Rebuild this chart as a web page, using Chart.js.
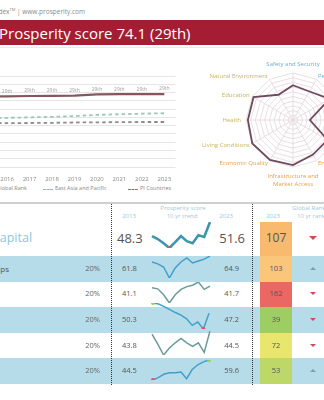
<!DOCTYPE html>
<html><head><meta charset="utf-8">
<script src="https://cdn.jsdelivr.net/npm/chart.js@4.4.0/dist/chart.umd.min.js"></script>
<style>
html,body{margin:0;padding:0;background:#fff;}
body{width:324px;height:400px;overflow:hidden;position:relative;font-family:"Open Sans",sans-serif;}
.a{position:absolute;white-space:nowrap;line-height:1;}
canvas{position:absolute;display:block;}
</style></head><body>
<script>
// ---------------- DATA ----------------
const years = ['2013','2014','2015','2016','2017','2018','2019','2020','2021','2022','2023'];
const countryScore = [72.4,72.5,72.6,72.7,72.9,73.0,73.1,73.9,74.0,74.0,74.1];
const globalRank = ['29th','29th','29th','29th','29th','29th','29th','29th','29th','29th','29th'];
const eastAsiaPacific = [59.0,59.3,59.5,59.7,60.0,60.3,60.8,61.5,61.9,62.2,62.5];
const piCountries = [56.2,56.3,56.4,56.5,56.6,56.7,56.9,57.0,57.1,57.2,57.2];
const seriesNames = ['Global Rank','East Asia and Pacific','PI Countries'];

const pillarLabels = ['Safety and Security','Personal Freedom','Governance','Social Capital','Investment Environment','Enterprise Conditions',['Infrastructure and','Market Access'],'Economic Quality','Living Conditions','Health','Education','Natural Environment'];
const pillarDomain = ['soc','soc','soc','soc','eco','eco','eco','eco','ppl','ppl','ppl','ppl'];
const pillarScores = [74.4,72.0,84.0,51.6,81.0,81.0,87.6,88.8,90.0,87.6,88.2,67.2];

const elementNames = ['Social Capital','Personal and Family Relationships','Social Networks','Interpersonal Trust','Institutional Trust','Civic and Social Participation'];
const elementWeights = ['','20%','20%','20%','20%','20%'];
const trendSocialCapital = [48.3,47.6,46.6,45.5,46.9,48.3,47.1,46.6,48.5,48.1,51.6];
const trendRelationships = [61.8,60.8,59.2,53.5,58.7,61.8,63.9,61.3,62.3,63.3,64.9];
const trendNetworks = [41.1,40.7,38.5,35.5,38.5,40.5,41.5,42.0,43.2,40.5,41.7];
const trendInterpersonal = [50.3,50.0,49.2,48.3,47.4,46.6,45.5,43.5,44.5,42.4,47.2];
const trendInstitutional = [43.8,41.5,39.0,40.6,41.8,42.8,41.8,41.0,41.8,39.6,44.5];
const trendCivic = [44.5,46.5,49.0,50.0,50.0,50.5,45.5,52.4,56.0,58.2,59.6];
const rank2023 = [107,103,162,39,72,53];
const rankChange = ['down','up','down','down','down','up'];
const headerLabels = ['Prosperity score','10 yr trend','2013','2023','Global Rank','10 yr rank change','2023'];

// ---------------- HELPERS ----------------
const body = document.body;
function el(tag, css, text){ const e=document.createElement(tag); e.style.cssText=css; if(text!==undefined) e.textContent=text; body.appendChild(e); return e; }
function txt(t,x,y,size,color,align,extra){
  const tr = align==='center'?'-50%':(align==='right'?'-100%':'0');
  return el('div',`left:${x}px;top:${y}px;font-size:${size}px;color:${color};transform:translate(${tr},-50%);${extra||''}`,t).classList.add('a');
}
function cnv(x,y,w,h){ const c=document.createElement('canvas'); c.width=w;c.height=h; c.style.cssText=`left:${x}px;top:${y}px;width:${w}px;height:${h}px;`; body.appendChild(c); return c; }
const mctx = document.createElement('canvas').getContext('2d');
function textW(t,font){ mctx.font=font; return mctx.measureText(t).width; }

// ---------------- HEADER ----------------
const top1 = el('div','right:239px;top:12px;font-size:6.5px;color:#8a8a8a;transform:translateY(-50%);');
top1.className='a';
top1.innerHTML='Legatum Prosperity Index<sup style="font-size:4px">TM</sup> | www.prosperity.com';
el('div','position:absolute;left:0;top:20px;width:324px;height:25px;background:#a51d32;');
txt('Prosperity score 74.1 (29th)',-1,32.5,15,'#fff','left');
el('div','position:absolute;left:0;top:47px;width:324px;height:1px;background:#f4e6e8;');

// ---------------- LINE CHART ----------------
const rankLabels = {
  id:'rankLabels',
  afterDatasetsDraw(chart){
    const {ctx,scales:{x,y}} = chart;
    ctx.save(); ctx.font='5px "Open Sans"'; ctx.fillStyle='#a0a0a0'; ctx.textAlign='center'; ctx.textBaseline='bottom';
    countryScore.forEach((v,i)=>{ ctx.fillText(globalRank[i], x.getPixelForValue(i), y.getPixelForValue(v)-2.5); });
    ctx.restore();
  }
};
new Chart(cnv(-76,68,256,116),{
  type:'line',
  data:{labels:years,datasets:[
    {label:seriesNames[0],data:countryScore,borderColor:'#86565d',borderWidth:2.2,pointRadius:0,tension:0},
    {label:seriesNames[1],data:eastAsiaPacific,borderColor:'#9cc6b5',borderWidth:1.8,borderDash:[3.5,3],pointRadius:0},
    {label:seriesNames[2],data:piCountries,borderColor:'#8c8c8c',borderWidth:1.8,borderDash:[3.5,3],pointRadius:0}
  ]},
  options:{responsive:false,animation:false,devicePixelRatio:1,
    layout:{padding:{top:8,bottom:0,left:0,right:0}},
    plugins:{legend:{display:false},tooltip:{enabled:false}},
    scales:{
      x:{offset:true,grid:{display:false,drawTicks:false},border:{display:false},
         afterFit(s){ s.height=17; },
         ticks:{font:{size:6,family:'Open Sans'},color:'#8a8a8a',padding:9,maxRotation:0,autoSkip:false}},
      y:{min:30,max:85,ticks:{display:false,stepSize:5},grid:{color:'#e6e6e6',drawTicks:false},border:{display:false}}
    }},
  plugins:[rankLabels]
});
// legend
txt(seriesNames[0],27,189,5.5,'#888','right');
el('div','position:absolute;left:-20px;top:188.5px;width:14px;height:1.5px;background:#86565d;');
el('div','position:absolute;left:43px;top:188.5px;width:10px;height:0;border-top:1.5px dashed #8fb8a8;');
txt(seriesNames[1],55,189,5.5,'#888','left');
el('div','position:absolute;left:128px;top:188.5px;width:10px;height:0;border-top:1.5px dashed #7c7c7c;');
txt(seriesNames[2],140,189,5.5,'#888','left');

// ---------------- RADAR ----------------
const domainColor = {soc:'#6eaed3',eco:'#e3a245',ppl:'#c6b658'};
const radarLabels = {
  id:'radarLabels',
  afterDraw(chart){
    const s = chart.scales.r, ctx = chart.ctx;
    ctx.save(); ctx.font='6px "Open Sans"';
    pillarLabels.forEach((lab,i)=>{
      const ang = i*360/pillarLabels.length;
      const diag = (ang%90)!==0;
      const p = s.getPointPosition(i, s.drawingArea+(diag?3:5));
      let align='center'; if(ang>5&&ang<175) align='left'; else if(ang>185&&ang<355) align='right';
      const lines = Array.isArray(lab)?lab:[lab];
      const lh=8; let y0;
      if(ang<=5||ang>=355) y0 = p.y - lh*(lines.length-0.5);
      else if(ang>=175&&ang<=185) y0 = p.y + lh*0.5;
      else y0 = p.y - lh*(lines.length-1)/2;
      ctx.fillStyle=domainColor[pillarDomain[i]]; ctx.textAlign=align; ctx.textBaseline='middle';
      lines.forEach((t,k)=>ctx.fillText(t,p.x,y0+k*lh));
    });
    ctx.restore();
  }
};
new Chart(cnv(193,45,200,150),{
  type:'radar',
  data:{labels:pillarLabels,datasets:[{data:pillarScores,borderColor:'#6d4b5c',borderWidth:1.8,pointRadius:0,fill:false}]},
  options:{responsive:false,animation:false,devicePixelRatio:1,
    layout:{padding:{left:53,right:53,top:28,bottom:28}},
    plugins:{legend:{display:false},tooltip:{enabled:false}},
    scales:{r:{min:30,max:90,ticks:{display:false,stepSize:6},pointLabels:{display:false},
      grid:{color:'#e4d6dc',lineWidth:0.8},angleLines:{color:'#e4d6dc',lineWidth:0.8}}}},
  plugins:[radarLabels]
});

// ---------------- TABLE ----------------
const trends = [trendSocialCapital,trendRelationships,trendNetworks,trendInterpersonal,trendInstitutional,trendCivic];
el('div','position:absolute;left:0;top:202px;width:324px;height:2px;background:#cfcfcf;');
const rowTop = i => 256 + (i-1)*25.6, rowH = 25.6;
for(let i=1;i<=5;i++){ if(i%2===1) el('div',`position:absolute;left:0;top:${rowTop(i)}px;width:324px;height:${rowH}px;background:#b7dce9;`); }
el('div','position:absolute;left:111px;top:204px;width:0;height:181px;border-left:1px dotted #333;');
el('div','position:absolute;left:252px;top:204px;width:0;height:181px;border-left:1px dotted #333;');
// headers
const hc='#97cbe0';
txt(headerLabels[0],183,208,6,hc,'center');
txt(headerLabels[1],182,215.5,6,hc,'center');
txt(headerLabels[2],129,215.5,6,hc,'center');
txt(headerLabels[3],226,215.5,6,hc,'center');
txt(headerLabels[4],292,208,6,hc,'left');
txt(headerLabels[5],297,215.5,6,hc,'left');
txt(headerLabels[6],273,215.5,6,hc,'center');

function rankColor(r){
  const st=[[1,[99,190,123]],[39,[158,205,100]],[72,[233,230,110]],[100,[251,208,130]],[110,[246,176,103]],[167,[234,96,100]]];
  for(let k=0;k<st.length-1;k++){ const [a,ca]=st[k],[b,cb]=st[k+1]; if(r<=b){ const t=(r-a)/(b-a); return 'rgb('+ca.map((c,j)=>Math.round(c+(cb[j]-c)*t)).join(',')+')'; } }
  return 'rgb(234,96,100)';
}
function tri(x,y,dir,size){
  const c = dir==='up'?'#74a3a6':'#cc4a5a';
  const b = dir==='up'?`border-bottom:${size*1.1}px solid ${c};`:`border-top:${size*1.1}px solid ${c};`;
  el('div',`position:absolute;left:${x-size}px;top:${y-size*0.55}px;width:0;height:0;border-left:${size}px solid transparent;border-right:${size}px solid transparent;${b}`);
}
const sparkStyle = [
  {top:219,h:32,color:'#3d95ae',w:2.6,marks:'min'},
  {top:253,h:28,color:'#40a0cb',w:1.5,marks:''},
  {top:279,h:27,color:'#6c9a98',w:1.5,marks:''},
  {top:299,h:34,color:'#40a0cb',w:1.5,marks:'both'},
  {top:328,h:30,color:'#6c9a98',w:1.5,marks:''},
  {top:356,h:28,color:'#40a0cb',w:1.5,marks:'both'}
];
const nameFont = '8px "Open Sans"';
const nameLeft = 9 - textW(elementNames[1], nameFont);
trends.forEach((d,i)=>{
  const cy = i===0?238:rowTop(i)+rowH/2;
  const first=d[0].toFixed(1), last=d[d.length-1].toFixed(1);
  if(i===0){
    txt(elementNames[0],-45,cy,12.5,'#8cc6de','left');
    txt(first,117,cy,13,'#555','left');
    txt(last,245,cy,13,'#555','right');
    el('div',`position:absolute;left:260px;top:222px;width:32px;height:34px;background:${rankColor(rank2023[0])};`);
    txt(String(rank2023[0]),276,cy,12,'#555','center');
    tri(313,cy,rankChange[0],4);
  } else {
    txt(elementNames[i],nameLeft,cy,8,'#555','left');
    txt(elementWeights[i],100,cy,7.5,'#666','right');
    txt(first,122,cy,7.5,'#555','left');
    txt(last,239,cy,7.5,'#555','right');
    el('div',`position:absolute;left:260px;top:${rowTop(i)}px;width:32px;height:${rowH}px;background:${rankColor(rank2023[i])};`);
    txt(String(rank2023[i]),276,cy,7.5,'#555','center');
    tri(313,cy,rankChange[i],3.5);
  }
  const st=sparkStyle[i];
  const mn=Math.min(...d), mx=Math.max(...d);
  const iMin=d.indexOf(mn), iMax=d.indexOf(mx);
  const radius=d.map((v,k)=> (st.marks&&k===iMin)||(st.marks==='both'&&k===iMax)?2:0);
  const pcol=d.map((v,k)=> k===iMin?'#e0505a':'#8fd05a');
  new Chart(cnv(149,st.top,64,st.h),{
    type:'line',
    data:{labels:years,datasets:[{data:d,borderColor:st.color,borderWidth:st.w,pointRadius:radius,pointBackgroundColor:pcol,pointBorderWidth:0,tension:0}]},
    options:{responsive:false,animation:false,devicePixelRatio:1,layout:{padding:3},
      plugins:{legend:{display:false},tooltip:{enabled:false}},
      scales:{x:{display:false},y:{display:false,min:mn,max:mx}}}
  });
});
</script>
</body></html>
